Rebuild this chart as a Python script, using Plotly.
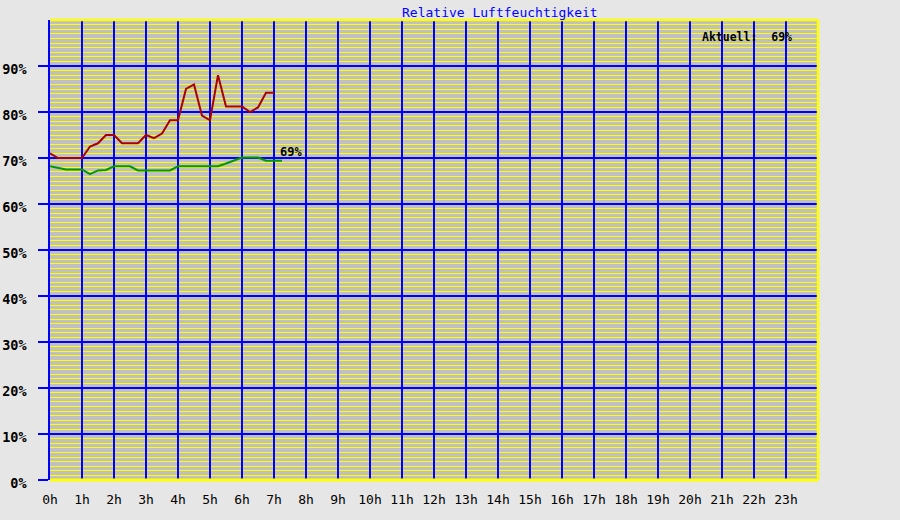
import plotly.graph_objects as go

# Time in hours (15-minute samples)
times_max = [0.0, 0.25, 0.5, 0.75, 1.0, 1.25, 1.5, 1.75, 2.0, 2.25, 2.5, 2.75,
             3.0, 3.25, 3.5, 3.75, 4.0, 4.25, 4.5, 4.75, 5.0, 5.25, 5.5, 5.75,
             6.0, 6.25, 6.5, 6.75, 7.0]
humid_max = [71, 70, 70, 70, 70, 72.5, 73.2, 75, 75, 73.2, 73.2, 73.2,
             75, 74.3, 75.3, 78.2, 78.2, 85, 86, 79.2, 78.2, 88, 81.2, 81.2,
             81.2, 80, 81, 84.2, 84.2]

times_cur = [0.0, 0.25, 0.5, 0.75, 1.0, 1.25, 1.5, 1.75, 2.0, 2.25, 2.5, 2.75,
             3.0, 3.25, 3.5, 3.75, 4.0, 4.25, 4.5, 4.75, 5.0, 5.25, 5.5, 5.75,
             6.0, 6.25, 6.5, 6.75, 7.0, 7.25]
humid_cur = [68.2, 67.8, 67.5, 67.5, 67.5, 66.5, 67.3, 67.4, 68.2, 68.2, 68.2, 67.3,
             67.3, 67.3, 67.3, 67.3, 68.2, 68.2, 68.2, 68.2, 68.2, 68.2, 68.8, 69.4,
             70.1, 70.1, 70.1, 69.4, 69.4, 69.4]

x_tickvals = list(range(24))
x_ticktext = [f"{h}h" for h in x_tickvals]
y_tickvals = [0, 10, 20, 30, 40, 50, 60, 70, 80, 90]
y_ticktext = [f"{v}%" for v in y_tickvals]

title_text = "Relative Luftfeuchtigkeit"
current_value = round(humid_cur[-1])

MONO = "DejaVu Sans Mono"

fig = go.Figure()
fig.add_trace(go.Scatter(x=times_max, y=humid_max, mode="lines",
                         line=dict(color="#aa0000", width=2), showlegend=False,
                         hoverinfo="skip"))
fig.add_trace(go.Scatter(x=times_cur, y=humid_cur, mode="lines",
                         line=dict(color="#009900", width=2), showlegend=False,
                         hoverinfo="skip"))

fig.update_layout(
    width=900, height=520,
    margin=dict(l=50, r=82, t=20, b=40, pad=0),
    paper_bgcolor="#e6e6e6",
    plot_bgcolor="#c0c0c0",
    showlegend=False,
    xaxis=dict(
        range=[0, 24], tickvals=x_tickvals, ticktext=x_ticktext,
        showgrid=True, gridcolor="#0000ff", gridwidth=1.5,
        zeroline=False, showline=False, ticks="",
        tickfont=dict(family=MONO, size=13, color="#000000"),
        ticklabelstandoff=10, automargin=False, fixedrange=True,
    ),
    yaxis=dict(
        range=[0, 100], tickvals=y_tickvals, ticktext=y_ticktext,
        showgrid=True, gridcolor="#0000ff", gridwidth=1.5,
        zeroline=False, showline=True, linecolor="#0000ff", linewidth=1.5,
        ticks="outside", ticklen=10, tickcolor="#0000ff", tickwidth=1.5,
        tickfont=dict(family=MONO, size=13.5, color="#000000", weight="bold"),
        ticklabelstandoff=9, ticklabelshift=3,
        minor=dict(tickmode="linear", tick0=0, dtick=1, showgrid=True,
                   gridcolor="#ffff00", gridwidth=1, ticks=""),
        automargin=False, fixedrange=True,
    ),
    shapes=[
        dict(type="line", xref="paper", yref="paper", x0=0, x1=1, y0=1, y1=1,
             line=dict(color="#ffff00", width=2.5), layer="above"),
        dict(type="line", xref="paper", yref="paper", x0=0, x1=1, y0=0, y1=0,
             line=dict(color="#ffff00", width=3), layer="above"),
        dict(type="line", xref="paper", yref="paper", x0=1, x1=1, y0=0, y1=1,
             line=dict(color="#ffff00", width=2.5), layer="above"),
    ],
    annotations=[
        dict(text=title_text, xref="paper", yref="paper",
             x=(500 - 50) / 768, y=1 + (20 - 13) / 460,
             xanchor="center", yanchor="middle", showarrow=False,
             font=dict(family=MONO, size=13, color="#0000ff")),
        dict(text=f"Aktuell:  {current_value}%", xref="paper", yref="paper",
             x=(700 - 50) / 768, y=1 - (37 - 20) / 460,
             xanchor="left", yanchor="middle", showarrow=False,
             font=dict(family=MONO, size=11.5, color="#000000", weight="bold")),
        dict(text=f"{current_value}%", xref="x", yref="y",
             x=times_cur[-1] - 0.13, y=humid_cur[-1] + 1.8,
             xanchor="left", yanchor="middle", showarrow=False,
             font=dict(family=MONO, size=12, color="#000000", weight="bold")),
    ],
)

fig.write_html("out.html", config={"displayModeBar": False},
               post_script="document.body.style.margin='0';document.body.style.background='#e6e6e6';")
